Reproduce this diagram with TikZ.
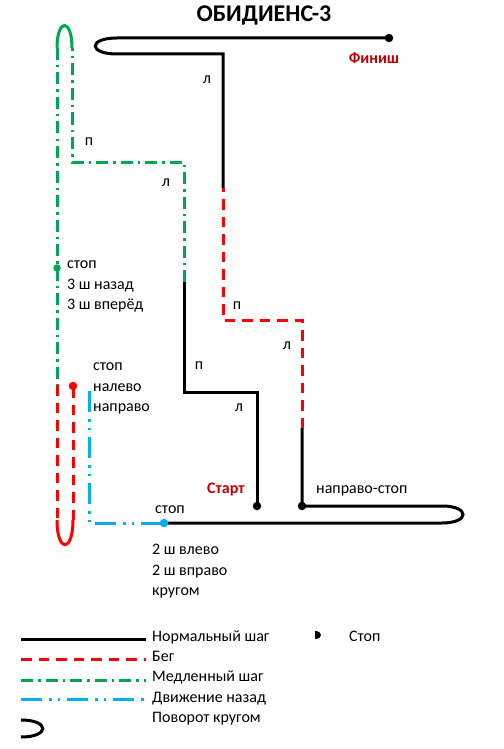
\documentclass[tikz,border=0pt]{standalone}
\usepackage{fontspec}
\setmainfont{Carlito}
\definecolor{runred}{RGB}{255,0,0}
\definecolor{slowgreen}{RGB}{0,166,81}
\definecolor{backblue}{RGB}{0,176,240}
\definecolor{darkred}{RGB}{192,0,0}
\tikzset{
  normal/.style={line width=3pt, black, line join=miter},
  runline/.style={line width=3pt, runred, dash pattern=on 10.5pt off 7pt},
  slowline/.style={line width=3pt, slowgreen, dash pattern=on 12pt off 5pt on 2.5pt off 5pt},
  backline/.style={line width=3pt, backblue, dash pattern=on 21pt off 7pt on 2.5pt off 6pt on 2.5pt off 7pt},
  lbl/.style={font=\fontsize{16}{19}\selectfont, inner sep=0pt},
  redlbl/.style={font=\fontsize{16}{19}\selectfont\bfseries, text=darkred, inner sep=0pt},
  dotmark/.style={circle, fill=#1, inner sep=0pt, minimum size=8.5pt}
}
\begin{document}
\begin{tikzpicture}[x=1pt,y=-1pt]
\useasboundingbox (0,0) rectangle (503,749);

% title
\node[font=\fontsize{24}{28}\selectfont\bfseries, inner sep=0pt, anchor=base] (title) at (264,22) {ОБИДИЕНС-3};

% route coordinates
\coordinate (F) at (389,38);
\coordinate (T1) at (117,38);
\coordinate (T2) at (117,54);
\coordinate (C1) at (223,54);
\coordinate (C2) at (223,188);
\coordinate (C3) at (223,320);
\coordinate (C4) at (302,320);
\coordinate (C5) at (302,428);
\coordinate (S2) at (302,506);
\coordinate (R1) at (442,506);
\coordinate (R2) at (442,523);
\coordinate (B) at (164,523);
\coordinate (BC) at (89,523);
\coordinate (BT) at (89,391);
\coordinate (RD) at (73,386);
\coordinate (RU1) at (73,520);
\coordinate (RU2) at (57,520);
\coordinate (G1) at (57,385);
\coordinate (GD) at (57,268);
\coordinate (GU1) at (57,48);
\coordinate (GU2) at (72,48);
\coordinate (G2) at (72,162);
\coordinate (G3) at (184,162);
\coordinate (G4) at (184,282);
\coordinate (K1) at (184,392);
\coordinate (K2) at (257,392);
\coordinate (S) at (257,506);

% start: normal step
\draw[normal] (S) -- (K2) -- (K1) -- (G4);
% slow step
\draw[slowline] (G4) -- (G3) -- (G2) -- (GU2);
\draw[line width=3pt, slowgreen] (GU2) .. controls (72,18) and (57,18) .. (GU1);
\draw[slowline] (GU1) -- (GD) -- (G1);
% run
\draw[runline] (G1) -- (RU2);
\draw[line width=3pt, runred] (RU2) .. controls (57,553) and (73,553) .. (RU1);
\draw[runline] (RU1) -- (RD);
% backwards
\draw[backline] (BT) -- (BC) -- (B);
% normal
\draw[normal] (B) -- (R2) .. controls (470,523) and (470,506) .. (R1) -- (S2) -- (C5);
% run
\draw[runline] (C5) -- (C4) -- (C3) -- (C2);
% normal to finish
\draw[normal] (C2) -- (C1) -- (T2) .. controls (88,54) and (88,38) .. (T1) -- (F);

% dots
\node[dotmark=black] (finish) at (F) {};
\node[dotmark=black] (start) at (S) {};
\node[dotmark=black] (stop2) at (S2) {};
\node[dotmark=slowgreen, minimum size=7.5pt] (gstop) at (GD) {};
\node[dotmark=runred] (rstop) at (RD) {};
\node[dotmark=backblue] (bstop) at (B) {};

% turn labels
\node[lbl, anchor=base] (l1) at (207,84) {л};
\node[lbl, anchor=base] (p1) at (89,146) {п};
\node[lbl, anchor=base] (l2) at (166,186) {л};
\node[lbl, anchor=base] (p2) at (237,309) {п};
\node[lbl, anchor=base] (l3) at (287,349) {л};
\node[lbl, anchor=base] (p3) at (199,369) {п};
\node[lbl, anchor=base] (l4) at (239,411) {л};

\node[redlbl, anchor=base] (finlbl) at (374,64) {Финиш};
\node[redlbl, anchor=base west] (startlbl) at (207,493) {Старт};

\node[lbl, anchor=base west] (g1) at (67,268) {стоп};
\node[lbl, anchor=base west] (g2) at (67,289) {3 ш назад};
\node[lbl, anchor=base west] (g3) at (67,309) {3 ш вперёд};

\node[lbl, anchor=base west] (r1) at (93,370) {стоп};
\node[lbl, anchor=base west] (r2) at (93,391) {налево};
\node[lbl, anchor=base west] (r3) at (93,411) {направо};

\node[lbl, anchor=base west] (ns) at (316,493) {направо-стоп};
\node[lbl, anchor=base] (bs) at (170,513) {стоп};

\node[lbl, anchor=base west] (b1) at (152,554) {2 ш влево};
\node[lbl, anchor=base west] (b2) at (152,575) {2 ш вправо};
\node[lbl, anchor=base west] (b3) at (152,595) {кругом};

% legend
\coordinate (LA1) at (21,639); \coordinate (LA2) at (146,639);
\coordinate (LB1) at (21,659); \coordinate (LB2) at (146,659);
\coordinate (LC1) at (21,680); \coordinate (LC2) at (146,680);
\coordinate (LD1) at (21,699); \coordinate (LD2) at (146,699);
\coordinate (LE1) at (21,720); \coordinate (LE2) at (21,737);
\draw[normal] (LA1) -- (LA2);
\draw[runline] (LB1) -- (LB2);
\draw[slowline] (LC1) -- (LC2);
\draw[backline] (LD1) -- (LD2);
\draw[normal] (LE1) .. controls (50,720) and (50,737) .. (LE2);

\node[lbl, anchor=base west] (t1) at (152,641) {Нормальный шаг};
\node[lbl, anchor=base west] (t2) at (152,661) {Бег};
\node[lbl, anchor=base west] (t3) at (152,681.5) {Медленный шаг};
\node[lbl, anchor=base west] (t4) at (152,702) {Движение назад};
\node[lbl, anchor=base west] (t5) at (152,722) {Поворот кругом};

\fill[black] (315,630.5) .. controls (323,630.5) and (323,638.5) .. (315,638.5) -- cycle;
\node[lbl, anchor=base west] (t6) at (349,641) {Стоп};
\end{tikzpicture}
\end{document}
